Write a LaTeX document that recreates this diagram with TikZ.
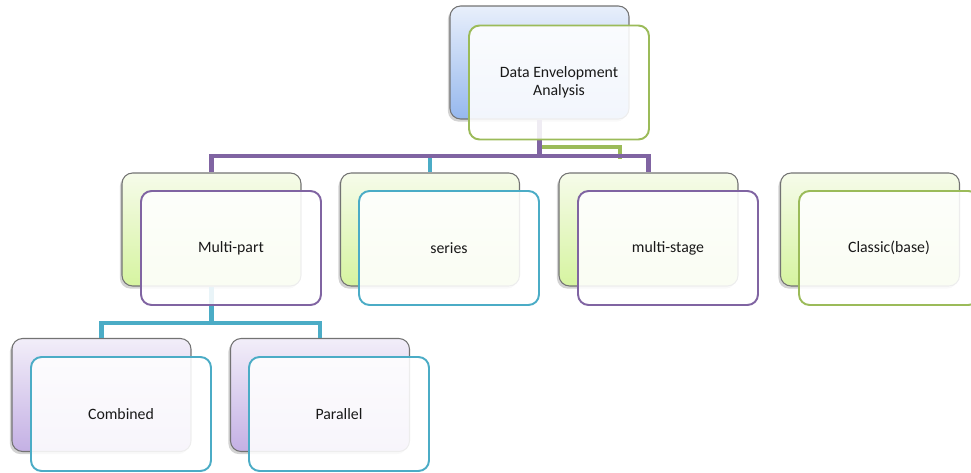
\documentclass[tikz,border=0pt]{standalone}
\usepackage{fontspec}
\setmainfont{Carlito}
\usetikzlibrary{shadows}

\definecolor{linePurple}{RGB}{128,100,162}
\definecolor{lineTeal}{RGB}{75,172,198}
\definecolor{lineGreen}{RGB}{155,187,89}
\definecolor{lineFaint}{RGB}{236,232,242}
\definecolor{blueTop}{RGB}{232,239,251}
\definecolor{blueBot}{RGB}{150,184,238}
\definecolor{greenTop}{RGB}{246,251,234}
\definecolor{greenBot}{RGB}{214,244,160}
\definecolor{lilacTop}{RGB}{242,238,249}
\definecolor{lilacBot}{RGB}{196,176,228}

\tikzset{
  back/.style={draw=black!55, line width=0.6pt, rounded corners=6pt,
    minimum width=3.58cm, minimum height=2.26cm,
    drop shadow={shadow xshift=-1.2pt, shadow yshift=-1.5pt, opacity=.35}},
  front/.style={draw=#1, line width=1.1pt, rounded corners=6pt,
    fill=white, fill opacity=.88, text opacity=1, text=black!90,
    minimum width=3.6cm, minimum height=2.28cm, align=center,
    font=\fontsize{9}{10.5}\selectfont},
  link/.style={line width=2.4pt, draw=#1},
}

\begin{document}
\begin{tikzpicture}[x=0.02cm, y=-0.02cm]
\useasboundingbox (0,0) rectangle (971,473);

% back cards
\node[back, top color=blueTop, bottom color=blueBot] (rootB) at (539.5,62.5) {};
\node[back, top color=greenTop, bottom color=greenBot] (mpB) at (211.5,229.5) {};
\node[back, top color=greenTop, bottom color=greenBot] (seB) at (430,229.5) {};
\node[back, top color=greenTop, bottom color=greenBot] (msB) at (648.5,229.5) {};
\node[back, top color=greenTop, bottom color=greenBot] (clB) at (870,229.5) {};
\node[back, top color=lilacTop, bottom color=lilacBot] (coB) at (101.5,395) {};
\node[back, top color=lilacTop, bottom color=lilacBot] (paB) at (320,395) {};

% links
\coordinate (bus) at (539.5,156);
\coordinate (grTurn) at (539.5,147);
\coordinate (grEnd) at (620,159);
\coordinate (bus2) at (211.5,323);

\draw[link=lineGreen] (grTurn) -| (grEnd);
\draw[link=lineTeal] (bus) -| (seB.north);
\draw[link=linePurple] (rootB.south) -- (bus) -| (mpB.north);
\draw[link=linePurple] (bus) -| (msB.north);
\draw[link=lineTeal] (mpB.south) -- (bus2) -| (coB.north);
\draw[link=lineTeal] (bus2) -| (paB.north);

% front cards
\node[front=lineGreen] (root) at (559,82.5) {Data Envelopment\\Analysis};
\node[front=linePurple] (mp) at (231,248) {Multi-part};
\node[front=lineTeal] (se) at (449,248) {series};
\node[front=linePurple] (ms) at (668,248) {multi-stage};
\node[front=lineGreen] (cl) at (889,248) {Classic(base)};
\node[front=lineTeal] (co) at (121,414) {Combined};
\node[front=lineTeal] (pa) at (339,414) {Parallel};
\end{tikzpicture}
\end{document}
